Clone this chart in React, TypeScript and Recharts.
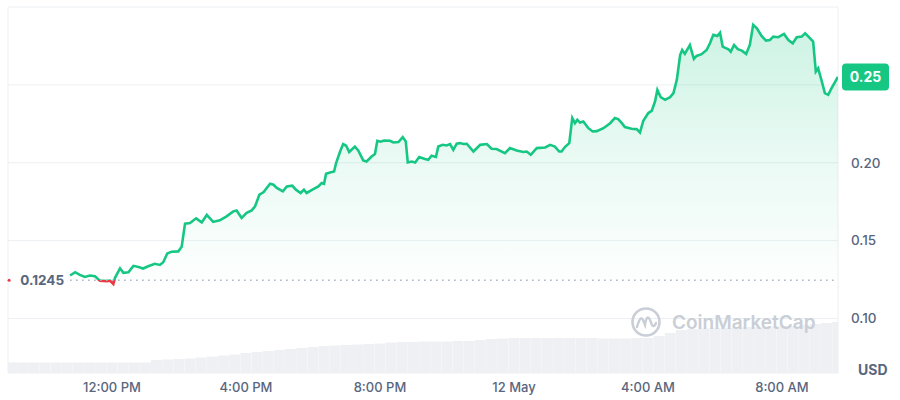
import React from 'react';
import { ComposedChart, Area, Bar, XAxis, YAxis, CartesianGrid, ReferenceLine } from 'recharts';

// hours relative to 12:00 PM (11 May)
const priceHours = [
  -1.25, -1.10, -0.96, -0.81, -0.66, -0.51, -0.36, -0.16, -0.06, 0.04,
  0.09, 0.24, 0.34, 0.49, 0.64, 0.79, 0.93, 1.08, 1.28, 1.43,
  1.53, 1.65, 1.78, 1.98, 2.08, 2.18, 2.33, 2.51, 2.68, 2.83,
  3.02, 3.22, 3.42, 3.62, 3.72, 3.87, 4.02, 4.17, 4.27, 4.40,
  4.52, 4.72, 4.82, 4.92, 5.10, 5.22, 5.38, 5.49, 5.63, 5.73,
  5.81, 6.01, 6.16, 6.26, 6.33, 6.39, 6.51, 6.63, 6.69, 6.81,
  6.90, 6.99, 7.08, 7.25, 7.35, 7.50, 7.60, 7.75, 7.85, 7.92,
  8.02, 8.12, 8.30, 8.40, 8.55, 8.68, 8.77, 8.83, 8.95, 9.05,
  9.17, 9.34, 9.44, 9.54, 9.67, 9.74, 9.87, 9.99, 10.09, 10.19,
  10.29, 10.39, 10.49, 10.59, 10.79, 10.99, 11.19, 11.33, 11.48, 11.73,
  11.88, 12.08, 12.28, 12.38, 12.50, 12.68, 12.93, 13.08, 13.22, 13.35,
  13.42, 13.52, 13.65, 13.74, 13.82, 13.89, 13.97, 14.07, 14.22, 14.35,
  14.47, 14.67, 14.87, 15.01, 15.11, 15.22, 15.31, 15.51, 15.66, 15.76,
  15.86, 16.01, 16.11, 16.21, 16.28, 16.38, 16.51, 16.66, 16.76, 16.86,
  16.96, 17.02, 17.10, 17.25, 17.37, 17.45, 17.60, 17.75, 17.85, 17.95,
  18.07, 18.15, 18.23, 18.40, 18.47, 18.57, 18.68, 18.80, 18.93, 19.04,
  19.14, 19.25, 19.39, 19.52, 19.64, 19.74, 19.89, 20.06, 20.19, 20.32,
  20.44, 20.59, 20.69, 20.79, 20.93, 21.01, 21.08, 21.19, 21.28, 21.38,
  21.48, 21.67,
];

const priceValues = [
  0.1276, 0.1297, 0.1280, 0.1267, 0.1276, 0.1271, 0.1243, 0.1240, 0.1243, 0.1222,
  0.1261, 0.1322, 0.1293, 0.1297, 0.1338, 0.1331, 0.1321, 0.1335, 0.1351, 0.1344,
  0.1361, 0.1417, 0.1429, 0.1431, 0.1460, 0.1609, 0.1613, 0.1643, 0.1617, 0.1665,
  0.1620, 0.1630, 0.1656, 0.1688, 0.1694, 0.1646, 0.1678, 0.1694, 0.1720, 0.1795,
  0.1810, 0.1865, 0.1859, 0.1838, 0.1816, 0.1848, 0.1853, 0.1827, 0.1806, 0.1827,
  0.1806, 0.1831, 0.1848, 0.1870, 0.1865, 0.1929, 0.1938, 0.1944, 0.1998, 0.2072,
  0.2120, 0.2109, 0.2069, 0.2104, 0.2079, 0.2015, 0.2008, 0.2040, 0.2056, 0.2141,
  0.2135, 0.2143, 0.2141, 0.2130, 0.2133, 0.2165, 0.2137, 0.2002, 0.2008, 0.2002,
  0.2037, 0.2024, 0.2019, 0.2045, 0.2037, 0.2104, 0.2115, 0.2111, 0.2120, 0.2083,
  0.2122, 0.2126, 0.2120, 0.2122, 0.2072, 0.2115, 0.2120, 0.2090, 0.2088, 0.2062,
  0.2094, 0.2079, 0.2069, 0.2072, 0.2051, 0.2094, 0.2098, 0.2115, 0.2104, 0.2072,
  0.2072, 0.2101, 0.2126, 0.2287, 0.2254, 0.2276, 0.2258, 0.2265, 0.2222, 0.2201,
  0.2203, 0.2222, 0.2254, 0.2287, 0.2280, 0.2254, 0.2229, 0.2218, 0.2216, 0.2194,
  0.2269, 0.2319, 0.2333, 0.2393, 0.2468, 0.2421, 0.2404, 0.2421, 0.2447, 0.2532,
  0.2692, 0.2724, 0.2699, 0.2756, 0.2667, 0.2686, 0.2697, 0.2724, 0.2767, 0.2821,
  0.2814, 0.2835, 0.2746, 0.2729, 0.2713, 0.2756, 0.2729, 0.2720, 0.2699, 0.2756,
  0.2885, 0.2863, 0.2814, 0.2784, 0.2788, 0.2810, 0.2806, 0.2827, 0.2788, 0.2767,
  0.2806, 0.2810, 0.2831, 0.2810, 0.2778, 0.2585, 0.2607, 0.2521, 0.2447, 0.2436,
  0.2479, 0.2551,
];

// volume bars, one every 20 minutes starting 9:00 AM
const volumeStartHour = -3;
const volumeStepHours = 1 / 3;
const volumeValues = [
  105, 105, 105, 105, 105, 105, 105, 105, 105, 105, 105, 105, 105,
  130, 135, 140, 145, 155, 165, 175, 185, 200, 210,
  220, 230, 240, 250, 260, 270, 275, 280, 285, 290,
  295, 305, 310, 310, 315, 315, 315, 320, 320, 330,
  340, 345, 350, 350, 350, 350, 350, 350, 350, 350,
  345, 345, 345, 350, 350, 370, 400, 430, 440, 445,
  450, 450, 455, 460, 460, 465, 470, 470, 480, 490,
  500, 510,
];

const xDomain = [-3.104, 21.672];
const xTickHours = [0, 4, 8, 12, 16, 20];
const xTickLabels = ['12:00 PM', '4:00 PM', '8:00 PM', '12 May', '4:00 AM', '8:00 AM'];
const yDomain = [0.065, 0.30];
const yTicks = [0.10, 0.15, 0.20, 0.25, 0.30];
const yTickLabels = ['0.10', '0.15', '0.20', '', ''];
const baselinePrice = 0.1245;
const baselineLabel = '0.1245';
const lastPriceLabel = '0.25';
const volumeDomain = [0, 3660];

const GREEN = '#16c784';
const RED = '#ea3943';
const GRAY_TEXT = '#58667e';
const FONT = 'Inter, "Noto Sans", sans-serif';

const rows: any[] = [
  ...priceHours.map((t, i) => ({ t, price: priceValues[i] })),
  ...volumeValues.map((v, i) => ({ vt: volumeStartHour + i * volumeStepHours, vol: v })),
].sort((a, b) => (a.t ?? a.vt) - (b.t ?? b.vt));

const pMax = Math.max(...priceValues);
const pMin = Math.min(...priceValues);
const splitOffset = (pMax - baselinePrice) / (pMax - pMin);
const lastPrice = priceValues[priceValues.length - 1];

const Badge = (props: any) => {
  const vb = props.viewBox || {};
  const x = vb.x + vb.width + 4;
  const y = vb.y;
  return (
    <g>
      <rect x={x} y={y - 13.5} width={47} height={27} rx={4} fill={GREEN} />
      <text x={x + 23.5} y={y} dy="0.36em" textAnchor="middle" fill="#fff" fontSize={14} fontWeight={700} fontFamily={FONT}>
        {lastPriceLabel}
      </text>
    </g>
  );
};

const BaseLabel = (props: any) => {
  const vb = props.viewBox || {};
  const x = vb.x;
  const y = vb.y;
  return (
    <g>
      <circle cx={x - 61} cy={y} r={1.5} fill={RED} />
      <text x={x - 6} y={y} dy="0.36em" textAnchor="end" fill={GRAY_TEXT} fontSize={13.5} fontWeight={700} fontFamily={FONT}>
        {baselineLabel}
      </text>
    </g>
  );
};

export default function App() {
  return (
    <div style={{ position: 'absolute', left: 0, top: 0, width: 900, height: 400, background: '#fff' }}>
      <ComposedChart
        width={900}
        height={400}
        data={rows}
        margin={{ top: 7, right: 0, bottom: 0, left: 8 }}
      >
        <defs>
          <linearGradient id="lineGrad" x1="0" y1="0" x2="0" y2="1">
            <stop offset={0} stopColor={GREEN} />
            <stop offset={splitOffset} stopColor={GREEN} />
            <stop offset={splitOffset} stopColor={RED} />
            <stop offset={1} stopColor={RED} />
          </linearGradient>
          <linearGradient id="fillGrad" x1="0" y1="0" x2="0" y2="1">
            <stop offset="0%" stopColor={GREEN} stopOpacity={0.36} />
            <stop offset="55%" stopColor={GREEN} stopOpacity={0.14} />
            <stop offset="100%" stopColor={GREEN} stopOpacity={0.01} />
          </linearGradient>
        </defs>
        <CartesianGrid
          yAxisId="price"
          stroke="#eceff3"
          vertical={true}
          verticalCoordinatesGenerator={({ offset }: any) => [offset.left, offset.left + offset.width]}
        />
        <XAxis
          dataKey="t"
          type="number"
          domain={xDomain}
          ticks={xTickHours}
          tickFormatter={(v: number) => xTickLabels[xTickHours.indexOf(v)] ?? ''}
          allowDataOverflow
          tickLine={false}
          axisLine={false}
          tickSize={0}
          tickMargin={10}
          height={27}
          tick={{ fill: GRAY_TEXT, fontSize: 13, fontWeight: 500, fontFamily: FONT }}
        />
        <XAxis xAxisId="vol" dataKey="vt" type="number" domain={xDomain} allowDataOverflow hide />
        <YAxis yAxisId="vol" hide domain={volumeDomain} />
        <YAxis
          yAxisId="price"
          orientation="right"
          width={62}
          domain={yDomain}
          ticks={yTicks}
          allowDataOverflow
          tickFormatter={(v: number) => yTickLabels[yTicks.indexOf(v)] ?? ''}
          tickLine={false}
          axisLine={false}
          tickSize={0}
          tickMargin={13}
          tick={{ fill: GRAY_TEXT, fontSize: 13.5, fontWeight: 500, fontFamily: FONT }}
        />
        <Bar xAxisId="vol" yAxisId="vol" dataKey="vol" fill="#eef0f4" barSize={11} isAnimationActive={false} />
        <Area
          yAxisId="price"
          dataKey="price"
          type="linear"
          baseValue={baselinePrice}
          stroke="url(#lineGrad)"
          strokeWidth={2.6}
          fill="url(#fillGrad)"
          connectNulls
          dot={false}
          activeDot={false}
          isAnimationActive={false}
        />
        <ReferenceLine
          yAxisId="price"
          segment={[{ x: priceHours[0], y: baselinePrice }, { x: xDomain[1], y: baselinePrice }]}
          stroke="#a7b0bf"
          strokeWidth={1.5}
          strokeDasharray="1.5 4.5"
          label={BaseLabel}
        />
        <ReferenceLine yAxisId="price" y={lastPrice} stroke="#fff" strokeOpacity={0} label={Badge} />
      </ComposedChart>
      <div
        style={{
          position: 'absolute', left: 858, top: 361, fontFamily: FONT, fontSize: 14, fontWeight: 700,
          color: GRAY_TEXT, lineHeight: '18px',
        }}
      >
        USD
      </div>
      <div
        style={{
          position: 'absolute', left: 630, top: 306, display: 'flex', alignItems: 'center', gap: 10,
          fontFamily: FONT, fontSize: 19, fontWeight: 600, color: '#c9ced7', pointerEvents: 'none',
        }}
      >
        <svg width={32} height={32} viewBox="0 0 32 32">
          <circle cx={16} cy={16} r={13.5} fill="none" stroke="#c9ced7" strokeWidth={2.6} />
          <path d="M7 21 C9 14, 11 10, 13 14 L15 19 C16 12, 18 9, 20 14 L22 19 C23 21, 25 20, 26 17" fill="none" stroke="#c9ced7" strokeWidth={2.4} strokeLinecap="round" />
        </svg>
        <span>CoinMarketCap</span>
      </div>
    </div>
  );
}
